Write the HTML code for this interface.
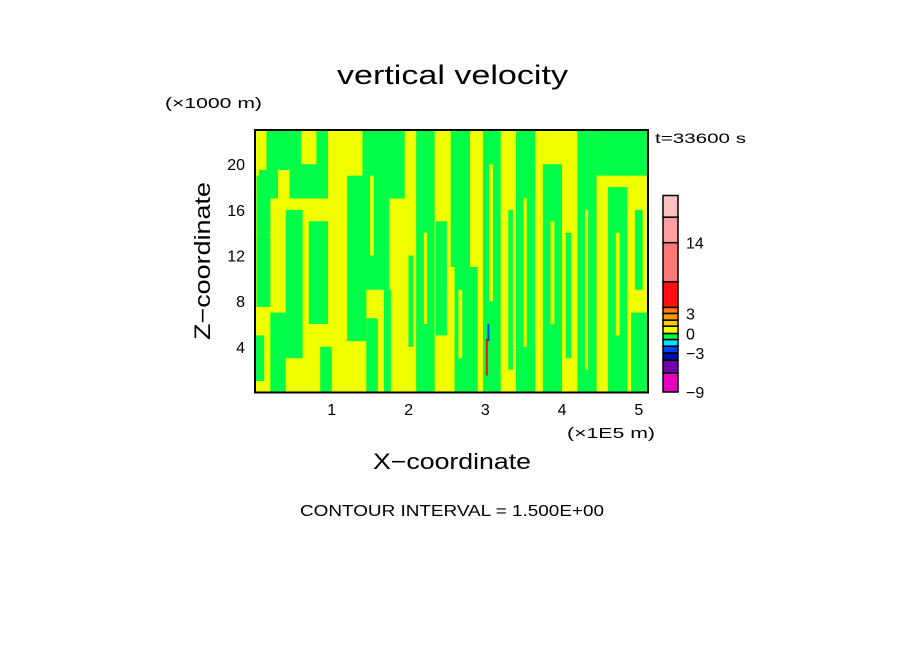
<!DOCTYPE html>
<html><head><meta charset="utf-8"><style>
body{margin:0;background:#fff;}
svg{display:block;font-family:"Liberation Sans",sans-serif;}
</style></head><body>
<svg width="904" height="654" viewBox="0 0 904 654">
<text x="337" y="84" font-size="27" textLength="231" lengthAdjust="spacingAndGlyphs">vertical velocity</text>
<text x="165" y="108" font-size="15" textLength="97" lengthAdjust="spacingAndGlyphs">(×1000 m)</text>
<text x="655" y="143" font-size="14" textLength="91" lengthAdjust="spacingAndGlyphs">t=33600 s</text>
<text transform="translate(210,340) rotate(-90)" font-size="22" textLength="158" lengthAdjust="spacingAndGlyphs">Z−coordinate</text>
<text x="373" y="469" font-size="22" textLength="158" lengthAdjust="spacingAndGlyphs">X−coordinate</text>
<text x="567" y="438" font-size="15" textLength="88" lengthAdjust="spacingAndGlyphs">(×1E5 m)</text>
<text x="300" y="516" font-size="16" textLength="304" lengthAdjust="spacingAndGlyphs">CONTOUR INTERVAL = 1.500E+00</text>
<g id="plot"></g>
<g id="axes"></g>
<g id="cbar"></g>
</svg>
<script>
// data (x in 1E5 m, z in 1000 m)
const greenPatches=[
[0.05,0.95,17,23],[0.02,0.2,14,19],[0.02,0.2,7.5,14],[0.2,0.4,0,7],[0.4,0.62,3,16],[0.7,0.95,6,15],
[1.2,1.45,4.5,19],[1.4,1.75,9,23],[1.45,1.6,0,6.5],[1.68,1.77,0,9],[1.75,1.95,17,23],
[2.1,2.34,0,23],[2.35,2.5,5,15],[2.55,2.8,11,23],[2.6,2.9,0,11],[2.97,3.2,0,23],
[3.4,3.65,0,23],[3.75,4.0,0,20],[4.2,4.45,0,23],[4.6,4.85,0,18],[4.9,5.12,0,7],[4.45,5.12,19,23],
[0.0,0.12,1,5],[0.85,1.0,0,4],[3.3,3.36,2,16],[4.05,4.12,3,14],[4.95,5.05,9,16],[2.0,2.06,4,12]
];
const yellowPatches=[
[0.05,0.15,19.5,23],[0.6,0.8,20,23],[0.3,0.45,17,19.5],[3.05,3.1,8,20],[3.5,3.54,4,17],
[3.85,3.9,6,15],[4.3,4.34,2,16],[4.7,4.75,5,14],[1.5,1.55,12,19],[2.65,2.7,3,9],[2.2,2.24,6,14]
];
const redLine=[3.02,1.5,4.7];
const blueLine=[3.04,4.5,6.0];
const xTicks=[1,2,3,4,5];
const zTicks=[4,8,12,16,20];
const cbColors=["#e800c0","#7000b0","#0010a0","#0040ff","#00e0ff","#00ff44","#eeff00","#ffcc00","#ff9900","#ff7f00","#ff1010","#ff7878","#ffa0a0","#ffc0c0"];
const cbSizes=[19,12.7,7.3,6.7,6.7,6,7.3,6,6.7,6,25.6,39,25.4,21.6];
const cbLabels=[[-9,0],[-3,3],[0,6],[3,9],[14,12]];

const NS="http://www.w3.org/2000/svg";
const L=255,R=648,T=130,B=392.5,XMAX=5.12,ZMAX=23;
const sx=v=>L+v/XMAX*(R-L), sz=v=>B-v/ZMAX*(B-T);
function mk(tag,attrs,parent){const e=document.createElementNS(NS,tag);for(const k in attrs)e.setAttribute(k,attrs[k]);parent.appendChild(e);return e;}
const plot=document.getElementById('plot');
const bg=mk('rect',{x:L,y:T,width:R-L,height:B-T,fill:'#f0ff00'},plot);


greenPatches.forEach(p=>{const r=mk('rect',{x:sx(p[0]),y:sz(p[3]),width:sx(p[1])-sx(p[0]),height:sz(p[2])-sz(p[3]),fill:'#00ff48'},plot);

});
yellowPatches.forEach(p=>{const r=mk('rect',{x:sx(p[0]),y:sz(p[3]),width:sx(p[1])-sx(p[0]),height:sz(p[2])-sz(p[3]),fill:'#f0ff00'},plot);

});
const rl=mk('rect',{x:sx(redLine[0])-1,y:sz(redLine[2]),width:2,height:sz(redLine[1])-sz(redLine[2]),fill:'#ff1010'},plot);


const bl=mk('rect',{x:sx(blueLine[0])-1,y:sz(blueLine[2]),width:2,height:sz(blueLine[1])-sz(blueLine[2]),fill:'#0040ff'},plot);


const fr=mk('rect',{x:L,y:T,width:R-L,height:B-T,fill:'none',stroke:'#000','stroke-width':2},plot);


const axes=document.getElementById('axes');
xTicks.forEach(v=>{const t=mk('text',{x:sx(v),y:415,'text-anchor':'middle','font-size':16},axes);t.textContent=v;

});
zTicks.forEach(v=>{const t=mk('text',{x:245,y:sz(v)+6,'text-anchor':'end','font-size':16},axes);t.textContent=v;

});
const cb=document.getElementById('cbar');
const total=cbSizes.reduce((a,b)=>a+b,0);const cT=195.5,cB=392,cx=663,cw=15;
const edges=[cB];let acc=0;
cbSizes.forEach((s,i)=>{const y1=cB-acc/total*(cB-cT);acc+=s;const y0=cB-acc/total*(cB-cT);edges.push(y0);
const r=mk('rect',{x:cx,y:y0,width:cw,height:y1-y0,fill:cbColors[i],stroke:'#000','stroke-width':1.5},cb);

});
cbLabels.forEach(l=>{const t=mk('text',{x:686,y:edges[l[1]]+6,'font-size':16},cb);t.textContent=l[0]<0?'−'+(-l[0]):l[0];

});
</script>
</body></html>
